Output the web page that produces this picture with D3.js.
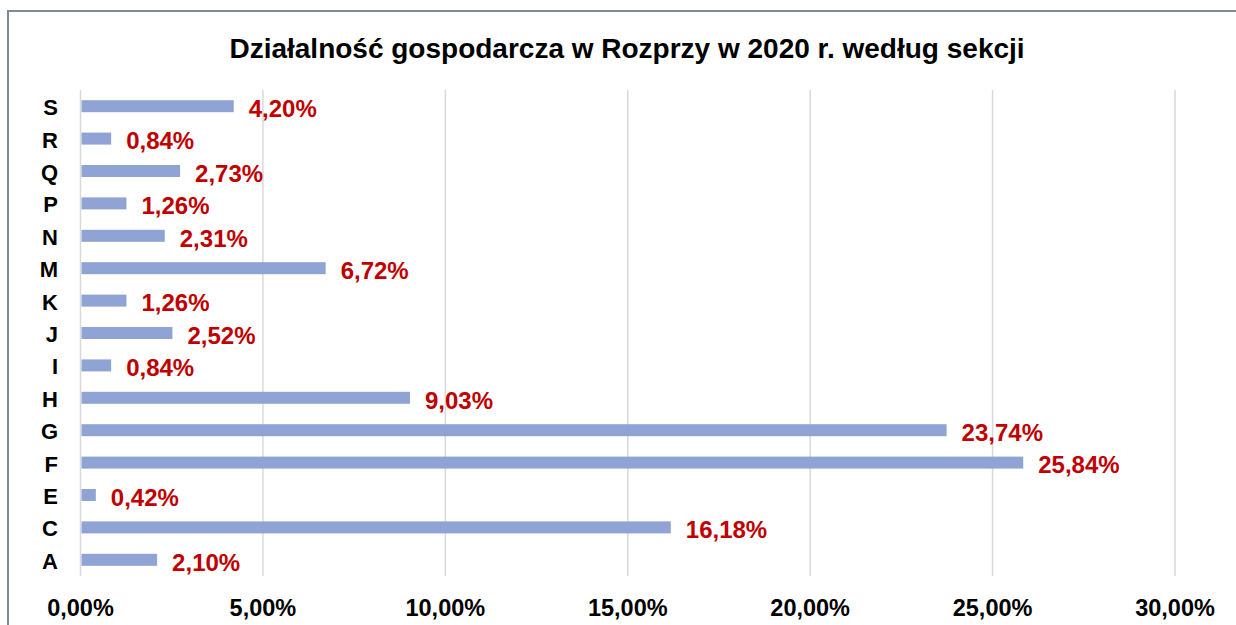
<!DOCTYPE html>
<meta charset="utf-8">
<style>
    body { margin: 0; background: #fff; }
    svg { display: block; font-family: "Liberation Sans", Arial, sans-serif; }
    .grid line { stroke: #d9d9d9; stroke-width: 1.5px; }
</style>
<svg width="1236" height="625"></svg>
<script src="https://cdnjs.cloudflare.com/ajax/libs/d3/7.8.5/d3.min.js"></script>
<script>
    var sections = ["S", "R", "Q", "P", "N", "M", "K", "J", "I", "H", "G", "F", "E", "C", "A"];
    var shares = [4.20, 0.84, 2.73, 1.26, 2.31, 6.72, 1.26, 2.52, 0.84, 9.03, 23.74, 25.84, 0.42, 16.18, 2.10];
    var ticks = [0, 5, 10, 15, 20, 25, 30];

    var svg = d3.select("svg");
    var fmt = function(v) { return v.toFixed(2).replace(".", ",") + "%"; };

    // frame of the chart area
    svg.append("rect")
        .attr("x", 8).attr("y", 11)
        .attr("width", 1240).attr("height", 640)
        .attr("fill", "none")
        .attr("stroke", "#7f8a96")
        .attr("stroke-width", 2);

    svg.append("text")
        .attr("x", 627).attr("y", 58)
        .attr("text-anchor", "middle")
        .attr("font-weight", "bold")
        .attr("font-size", 28)
        .text("Działalność gospodarcza w Rozprzy w 2020 r. według sekcji");

    var x = d3.scaleLinear().domain([0, 30]).range([80.5, 1175]);
    var y = d3.scaleBand().domain(sections).range([90, 576]).paddingInner(0.63).paddingOuter(0.315);

    svg.append("g").attr("class", "grid")
        .selectAll("line").data(ticks)
        .enter().append("line")
        .attr("x1", function(d) { return x(d); })
        .attr("x2", function(d) { return x(d); })
        .attr("y1", 90).attr("y2", 576);

    svg.append("g").selectAll("rect")
        .data(shares)
        .enter().append("rect")
        .attr("x", x(0) + 1)
        .attr("y", function(d, i) { return y(sections[i]); })
        .attr("width", function(d) { return x(d) - x(0) - 1; })
        .attr("height", y.bandwidth())
        .attr("fill", "#8fa4d4");

    svg.append("g").selectAll("text")
        .data(shares)
        .enter().append("text")
        .attr("x", function(d) { return x(d) + 15; })
        .attr("y", function(d, i) { return y(sections[i]) + y.bandwidth() / 2; })
        .attr("dy", "0.45em")
        .attr("font-weight", "bold")
        .attr("font-size", 24)
        .attr("fill", "#c00000")
        .text(fmt);

    svg.append("g").selectAll("text")
        .data(sections)
        .enter().append("text")
        .attr("x", 58)
        .attr("y", function(d) { return y(d) + y.bandwidth() / 2; })
        .attr("dy", "0.41em")
        .attr("text-anchor", "end")
        .attr("font-weight", "bold")
        .attr("font-size", 22)
        .text(function(d) { return d; });

    svg.append("g").selectAll("text")
        .data(ticks)
        .enter().append("text")
        .attr("x", function(d) { return x(d); })
        .attr("y", 616)
        .attr("text-anchor", "middle")
        .attr("font-weight", "bold")
        .attr("font-size", 23.5)
        .text(fmt);
</script>
